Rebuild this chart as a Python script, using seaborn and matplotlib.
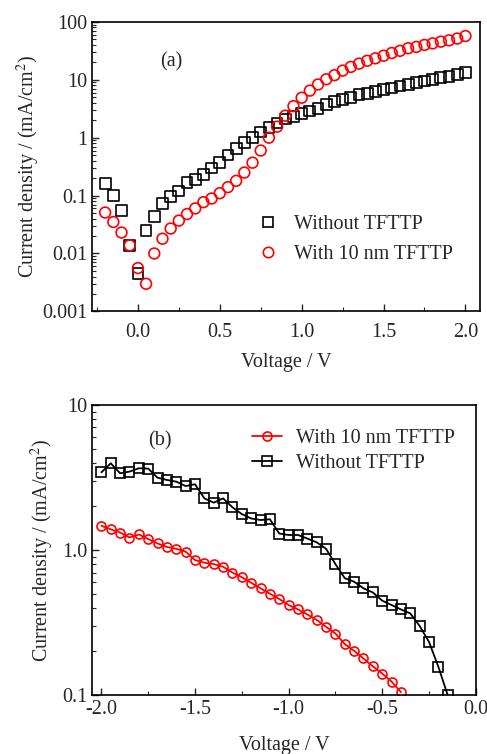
import numpy as np
import pandas as pd
import matplotlib
matplotlib.use("Agg")
import matplotlib.pyplot as plt
from matplotlib.ticker import LogLocator, NullFormatter, MultipleLocator
import seaborn as sns

# (a) courbes J-V directes
volt_a = [round(-0.2 + 0.05 * i, 2) for i in range(45)]
without_a = [0.16, 0.10, 0.056, 0.0138, 0.0045, 0.025, 0.044, 0.072, 0.095, 0.12,
             0.166, 0.19, 0.23, 0.30, 0.37, 0.50, 0.65, 0.82, 1.0, 1.25,
             1.5, 1.8, 2.1, 2.3, 2.6, 2.9, 3.2, 3.7, 4.2, 4.6,
             5.0, 5.5, 5.8, 6.3, 6.8, 7.2, 7.8, 8.3, 8.9, 9.5,
             10.2, 10.8, 11.5, 12.2, 13.2]
with_a = [0.051, 0.035, 0.023, 0.0138, 0.0056, 0.003, 0.010, 0.018, 0.027, 0.037,
          0.048, 0.060, 0.077, 0.089, 0.11, 0.14, 0.18, 0.25, 0.37, 0.60,
          1.0, 1.55, 2.4, 3.5, 4.9, 6.5, 8.3, 10.2, 12.0, 14.4,
          16.7, 19.0, 21.3, 23.5, 26.0, 29.0, 31.6, 35.0, 37.0, 40.0,
          42.5, 45.5, 48.0, 51.5, 57.0]

# (b) courbes inverses
volt_b_without = [round(-2.0 + 0.05 * i, 2) for i in range(38)]
without_b = [3.43, 3.96, 3.38, 3.47, 3.66, 3.64, 3.15, 3.04, 2.96, 2.76,
             2.84, 2.27, 2.12, 2.27, 1.97, 1.77, 1.65, 1.61, 1.63, 1.30,
             1.27, 1.27, 1.20, 1.13, 1.02, 0.80, 0.64, 0.605, 0.545, 0.51,
             0.448, 0.418, 0.39, 0.366, 0.30, 0.233, 0.157, 0.10]
volt_b_with = [round(-2.0 + 0.05 * i, 2) for i in range(33)]
with_b = [1.47, 1.39, 1.32, 1.22, 1.28, 1.19, 1.11, 1.05, 1.02, 0.975,
          0.853, 0.818, 0.80, 0.767, 0.70, 0.65, 0.595, 0.545, 0.50, 0.46,
          0.418, 0.39, 0.36, 0.33, 0.296, 0.266, 0.225, 0.202, 0.179, 0.158,
          0.141, 0.124, 0.105]

FS = 14.5

sns.set_style("ticks")
plt.rcParams['font.family'] = ['Liberation Serif', 'DejaVu Serif']
plt.rcParams['mathtext.fontset'] = 'stix'
plt.rcParams['xtick.direction'] = 'in'
plt.rcParams['ytick.direction'] = 'in'

fig = plt.figure(figsize=(4.87, 7.54), dpi=100)
ax1 = fig.add_axes([0.189, 0.587, 0.797, 0.384])
ax2 = fig.add_axes([0.189, 0.078, 0.788, 0.385])

df_a = pd.DataFrame({"V": volt_a * 2,
                     "J": without_a + with_a,
                     "serie": ["Without TFTTP"] * len(volt_a) + ["With 10 nm TFTTP"] * len(volt_a)})

sns.scatterplot(data=df_a, x="V", y="J", hue="serie", style="serie",
                markers={"Without TFTTP": "s", "With 10 nm TFTTP": "o"},
                palette={"Without TFTTP": "black", "With 10 nm TFTTP": "red"},
                s=60, linewidth=1.2, ax=ax1, legend=False)
# marqueurs vides
for coll in ax1.collections:
    ec = coll.get_facecolors()
    coll.set_edgecolors(ec)
    coll.set_facecolors("none")

ax1.set_yscale("log")
ax1.set_xlim(-0.28, 2.09)
ax1.set_ylim(0.001, 100)
ax1.set_yticks([0.001, 0.01, 0.1, 1, 10, 100])
ax1.set_yticklabels(["0.001", "0.01", "0.1", "1", "10", "100"])
ax1.yaxis.set_minor_locator(LogLocator(base=10, subs=np.arange(2, 10)))
ax1.yaxis.set_minor_formatter(NullFormatter())
ax1.set_xticks([0.0, 0.5, 1.0, 1.5, 2.0])
ax1.set_xticklabels(["0.0", "0.5", "1.0", "1.5", "2.0"])
ax1.xaxis.set_minor_locator(MultipleLocator(0.25))
ax1.set_xlabel("Voltage / V", fontsize=FS, labelpad=8)
ax1.set_ylabel("Current density / (mA/cm$^2$)", fontsize=FS, labelpad=0)
ax1.text(0.175, 0.845, "(a)", transform=ax1.transAxes, fontsize=FS)
ax1.tick_params(axis="x", which="major", pad=8)

h1 = plt.Line2D([], [], ls="none", marker="s", mfc="none", mec="black", ms=7.5, mew=1.2)
h2 = plt.Line2D([], [], ls="none", marker="o", mfc="none", mec="red", ms=7.5, mew=1.2)
ax1.legend([h1, h2], ["Without TFTTP", "With 10 nm TFTTP"], loc="lower left",
           bbox_to_anchor=(0.355, 0.1), frameon=False, fontsize=FS, handletextpad=0.3,
           labelspacing=0.55)

# (b)
df_w = pd.DataFrame({"V": volt_b_with, "J": with_b})
df_wo = pd.DataFrame({"V": volt_b_without, "J": without_b})
sns.lineplot(data=df_w, x="V", y="J", color="red", marker="o", mfc="none", mec="red",
             ms=6.5, mew=1.2, lw=1.3, ax=ax2, label="With 10 nm TFTTP")
sns.lineplot(data=df_wo, x="V", y="J", color="black", marker="s", mfc="none", mec="black",
             ms=6.5, mew=1.2, lw=1.3, ax=ax2, label="Without TFTTP")

ax2.set_yscale("log")
ax2.set_xlim(-2.05, 0.0)
ax2.set_ylim(0.1, 10)
ax2.set_yticks([0.1, 1, 10])
ax2.set_yticklabels(["0.1", "1.0", "10"])
ax2.yaxis.set_minor_locator(LogLocator(base=10, subs=np.arange(2, 10)))
ax2.yaxis.set_minor_formatter(NullFormatter())
ax2.set_xticks([-2.0, -1.5, -1.0, -0.5, 0.0])
ax2.set_xticklabels(["-2.0", "-1.5", "-1.0", "-0.5", "0.0"])
ax2.xaxis.set_minor_locator(MultipleLocator(0.25))
ax2.set_xlabel("Voltage / V", fontsize=FS, labelpad=12)
ax2.set_ylabel("Current density / (mA/cm$^2$)", fontsize=FS)
ax2.text(0.145, 0.86, "(b)", transform=ax2.transAxes, fontsize=FS)
ax2.legend(loc="upper left", bbox_to_anchor=(0.385, 0.96), frameon=False, fontsize=FS,
           handlelength=1.5, handletextpad=0.7, borderaxespad=0.2, labelspacing=0.3)

for ax in (ax1, ax2):
    ax.tick_params(which="major", length=5, width=1, labelsize=FS, right=False, top=False)
    ax.tick_params(which="minor", length=3, width=0.8)
    for sp in ax.spines.values():
        sp.set_linewidth(1.2)
        sp.set_color("black")

fig.savefig("out.png", dpi=100)
